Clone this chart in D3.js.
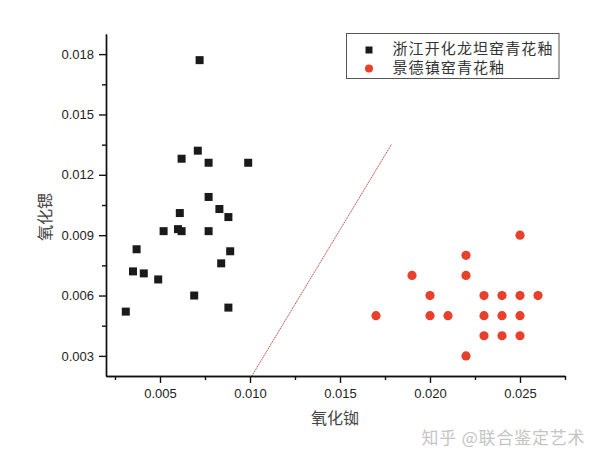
<!DOCTYPE html>
<html><head><meta charset="utf-8">
<script src="https://cdn.jsdelivr.net/npm/d3@7"></script>
<style>body{margin:0;background:#fff}svg{display:block}</style>
</head><body><svg id="c" width="600" height="463"></svg>
<script>
const seriesNames = ["浙江开化龙坦窑青花釉", "景德镇窑青花釉"];
const xTitle = "氧化铷", yTitle = "氧化锶";
const watermark = "知乎 @联合鉴定艺术";
const zhejiangRb = [0.0072,0.0071,0.0062,0.0077,0.0099,0.0077,0.0083,0.0061,0.0088,0.0052,0.0060,0.0062,0.0077,0.0037,0.0089,0.0084,0.0035,0.0041,0.0049,0.0069,0.0088,0.0031];
const zhejiangSr = [0.0177,0.0132,0.0128,0.0126,0.0126,0.0109,0.0103,0.0101,0.0099,0.0092,0.0093,0.0092,0.0092,0.0083,0.0082,0.0076,0.0072,0.0071,0.0068,0.0060,0.0054,0.0052];
const jdzRb = [0.025,0.022,0.019,0.022,0.020,0.023,0.024,0.025,0.026,0.017,0.020,0.021,0.023,0.024,0.025,0.023,0.024,0.025,0.022];
const jdzSr = [0.009,0.008,0.007,0.007,0.006,0.006,0.006,0.006,0.006,0.005,0.005,0.005,0.005,0.005,0.005,0.004,0.004,0.004,0.003];
const lineRb = [0.0101, 0.01787];
const lineSr = [0.002, 0.01353];
const xMajor = [0.005,0.010,0.015,0.020,0.025];
const xMinor = [0.0025,0.0075,0.0125,0.0175,0.0225,0.0275];
const yMajor = [0.003,0.006,0.009,0.012,0.015,0.018];
const yMinor = [0.0045,0.0075,0.0105,0.0135,0.0165];

const svg = d3.select("#c");
const x = d3.scaleLinear().domain([0.002,0.0275]).range([106,565]);
const y = d3.scaleLinear().domain([0.002,0.019]).range([376,34]);
const fmt = d3.format(".3f");

// diagonal line
svg.append("line")
  .attr("x1", x(lineRb[0])).attr("y1", y(lineSr[0]))
  .attr("x2", x(lineRb[1])).attr("y2", y(lineSr[1]))
  .attr("stroke","#b5483c").attr("stroke-width",0.9).attr("stroke-dasharray","1.5,0.6");

function styleAxis(g){
  g.select(".domain").attr("stroke","#111").attr("stroke-width",1.4);
  g.selectAll(".tick line").attr("stroke","#111").attr("stroke-width",1.4);
  g.selectAll("text").attr("font-family","Liberation Sans, Arial, sans-serif").attr("font-size",13).attr("fill","#222");
}
const gx = svg.append("g").attr("transform","translate(0,376)")
  .call(d3.axisBottom(x).tickValues(xMajor).tickFormat(fmt).tickSize(7).tickSizeOuter(0).tickPadding(6));
styleAxis(gx);
const gxm = svg.append("g").attr("transform","translate(0,376)")
  .call(d3.axisBottom(x).tickValues(xMinor).tickFormat("").tickSize(4).tickSizeOuter(0));
styleAxis(gxm);
const gy = svg.append("g").attr("transform","translate(106,0)")
  .call(d3.axisLeft(y).tickValues(yMajor).tickFormat(fmt).tickSize(7).tickSizeOuter(0).tickPadding(5));
styleAxis(gy);
const gym = svg.append("g").attr("transform","translate(106,0)")
  .call(d3.axisLeft(y).tickValues(yMinor).tickFormat("").tickSize(4).tickSizeOuter(0));
styleAxis(gym);

// points
const zj = zhejiangRb.map((v,i)=>({x:v,y:zhejiangSr[i]}));
const jd = jdzRb.map((v,i)=>({x:v,y:jdzSr[i]}));
const sq = 8;
svg.append("g").selectAll("rect").data(zj).join("rect")
  .attr("x",d=>x(d.x)-sq/2).attr("y",d=>y(d.y)-sq/2).attr("width",sq).attr("height",sq)
  .attr("fill","#1a1a1a");
svg.append("g").selectAll("circle").data(jd).join("circle")
  .attr("cx",d=>x(d.x)).attr("cy",d=>y(d.y)).attr("r",4.6)
  .attr("fill","#e8402a");

const cjk = "'Noto Sans CJK SC', sans-serif";
// axis titles
svg.append("text").attr("x",335).attr("y",424).attr("text-anchor","middle")
  .attr("font-family",cjk).attr("font-size",16).attr("fill","#444").text(xTitle);
svg.append("text").attr("transform","translate(51,217) rotate(-90)").attr("text-anchor","middle")
  .attr("font-family",cjk).attr("font-size",16).attr("fill","#444").text(yTitle);

// legend
svg.append("rect").attr("x",346.5).attr("y",33.5).attr("width",212.5).attr("height",45)
  .attr("fill","#fff").attr("stroke","#555").attr("stroke-width",1);
svg.append("rect").attr("x",369-3.5).attr("y",46.5).attr("width",7).attr("height",7).attr("fill","#1a1a1a");
svg.append("circle").attr("cx",369).attr("cy",68.5).attr("r",4).attr("fill","#e8402a");
svg.append("text").attr("x",392.5).attr("y",54).attr("font-family",cjk).attr("font-size",15).attr("letter-spacing",1.1).attr("fill","#333").text(seriesNames[0]);
svg.append("text").attr("x",392.5).attr("y",73).attr("font-family",cjk).attr("font-size",15).attr("letter-spacing",1.1).attr("fill","#333").text(seriesNames[1]);

// watermark
svg.append("text").attr("x",421.5).attr("y",444).attr("font-family",cjk).attr("font-size",17).attr("letter-spacing",0.8)
  .attr("fill","#c4c4c4").text(watermark);
</script></body></html>
